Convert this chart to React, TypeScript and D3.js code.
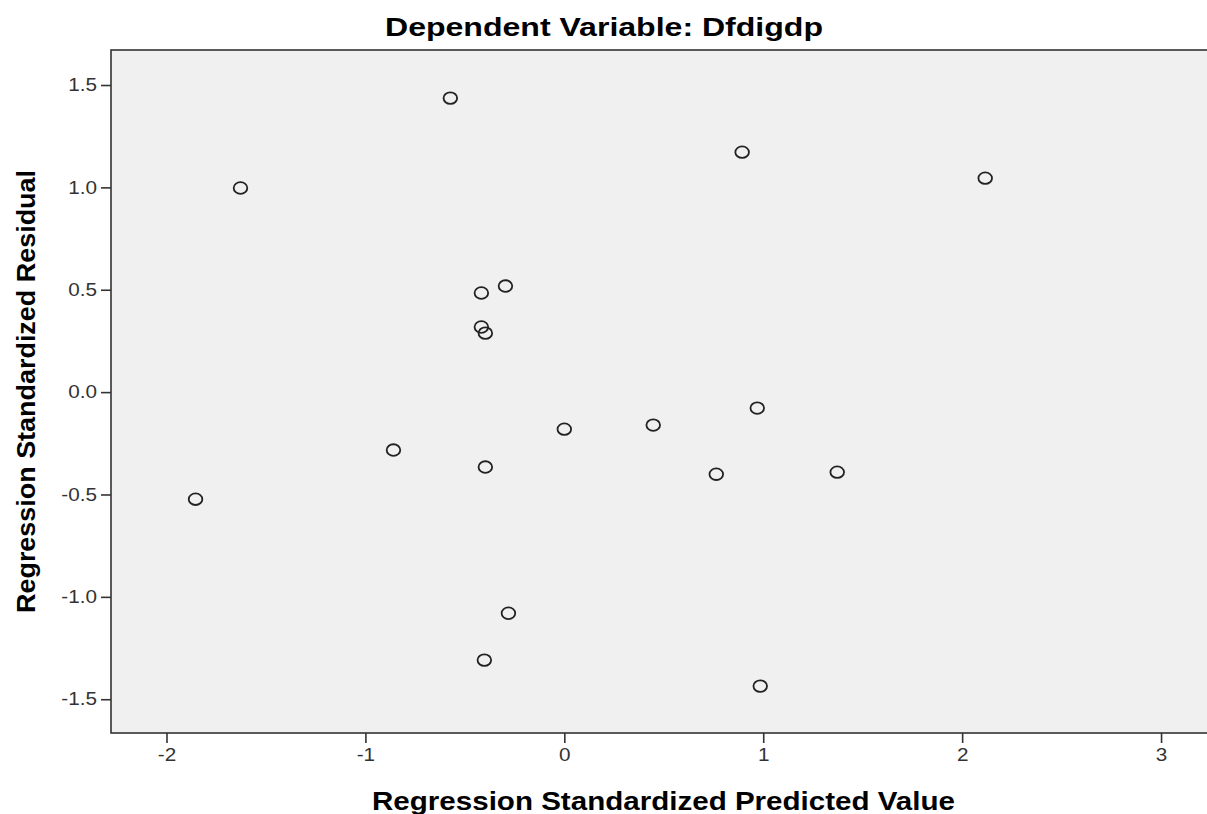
import { useEffect, useRef } from "react";
import * as d3 from "d3";

// predicted value (x) and residual (y) for each case
const predicted = [-0.573, 0.894, 2.116, -1.628, -0.296, -0.417, -0.417, -0.397, 0.97, 0.0, 0.447, -0.859, -0.397, 0.764, 1.372, -1.854, -0.281, -0.402, 0.985];
const residual = [1.436, 1.172, 1.045, 0.997, 0.518, 0.484, 0.318, 0.288, -0.078, -0.181, -0.161, -0.283, -0.366, -0.401, -0.391, -0.523, -1.08, -1.309, -1.436];
const xTicks = [-2, -1, 0, 1, 2, 3];
const yTicks = [-1.5, -1.0, -0.5, 0.0, 0.5, 1.0, 1.5];

const mainTitle = "Dependent Variable: Dfdigdp";
const xAxTitle = "Regression Standardized Predicted Value";
const yAxTitle = "Regression Standardized Residual";

const App = () => {
    const svgRef = useRef(null);
    const W = 1207;
    const H = 814;
    const margin = { top: 50, right: 0, bottom: 81, left: 111 };

    useEffect(() => {
        const svg = d3.select(svgRef.current);
        svg.selectAll("*").remove();

        const xScale = d3.scaleLinear().domain([-2.279, 3.231]).range([margin.left, W - margin.right]);
        const yScale = d3.scaleLinear().domain([-1.665, 1.671]).range([H - margin.bottom, margin.top]);

        // plot background
        svg.append("rect")
            .attr("x", margin.left)
            .attr("y", margin.top)
            .attr("width", W - margin.left + 5)
            .attr("height", H - margin.bottom - margin.top)
            .style("fill", "#f0f0f0")
            .style("stroke", "#333")
            .style("stroke-width", 1.6);

        const font = "Arial, 'Liberation Sans', sans-serif";
        // SPSS text is a bit wider than Arial, stretch it a little
        const stretch = (sel) =>
            sel.each(function () {
                const w = this.getComputedTextLength();
                d3.select(this).attr("textLength", w * 1.15).attr("lengthAdjust", "spacingAndGlyphs");
            });
        const fmtX = (d) => String(d).replace("−", "-");
        const fmtY = (d) => d3.format(".1f")(d).replace("−", "-");

        // X axis
        const xAxis = d3.axisBottom(xScale).tickValues(xTicks).tickFormat(fmtX).tickSize(10).tickPadding(5);
        const gx = svg.append("g")
            .attr("transform", `translate(0, ${H - margin.bottom})`)
            .call(xAxis);
        gx.select(".domain").remove();
        gx.selectAll("line").style("stroke", "#333").style("stroke-width", 1.6);
        gx.selectAll("text").style("font-family", font).style("font-size", "18px").style("fill", "#333").call(stretch);

        // Y axis
        const yAxis = d3.axisLeft(yScale).tickValues(yTicks).tickFormat(fmtY).tickSize(10).tickPadding(4);
        const gy = svg.append("g")
            .attr("transform", `translate(${margin.left}, 0)`)
            .call(yAxis);
        gy.select(".domain").remove();
        gy.selectAll("line").style("stroke", "#333").style("stroke-width", 1.6);
        gy.selectAll("text").style("font-family", font).style("font-size", "18px").style("fill", "#333").call(stretch);

        // Title
        svg.append("text")
            .attr("x", 604)
            .attr("y", 36)
            .attr("text-anchor", "middle")
            .attr("textLength", 438)
            .attr("lengthAdjust", "spacingAndGlyphs")
            .style("font-family", font)
            .style("font-weight", "bold")
            .style("font-size", "25px")
            .text(mainTitle);

        // X axis label
        svg.append("text")
            .attr("x", 663.5)
            .attr("y", 810)
            .attr("text-anchor", "middle")
            .attr("textLength", 583)
            .attr("lengthAdjust", "spacingAndGlyphs")
            .style("font-family", font)
            .style("font-weight", "bold")
            .style("font-size", "25px")
            .text(xAxTitle);

        // Y axis label
        svg.append("text")
            .attr("transform", "rotate(-90)")
            .attr("x", -391.5)
            .attr("y", 35)
            .attr("text-anchor", "middle")
            .attr("textLength", 443)
            .attr("lengthAdjust", "spacingAndGlyphs")
            .style("font-family", font)
            .style("font-weight", "bold")
            .style("font-size", "26px")
            .text(yAxTitle);

        // points
        svg.selectAll("ellipse.pt")
            .data(predicted)
            .enter()
            .append("ellipse")
            .attr("class", "pt")
            .attr("cx", (d) => xScale(d))
            .attr("cy", (d, i) => yScale(residual[i]))
            .attr("rx", 6.8)
            .attr("ry", 5.8)
            .style("fill", "none")
            .style("stroke", "#222")
            .style("stroke-width", 1.8);
    }, []);

    return (
        <svg
            ref={svgRef}
            width={W}
            height={H}
            style={{ position: "absolute", left: 0, top: 0, background: "#fff" }}
        ></svg>
    );
};

export default App;
